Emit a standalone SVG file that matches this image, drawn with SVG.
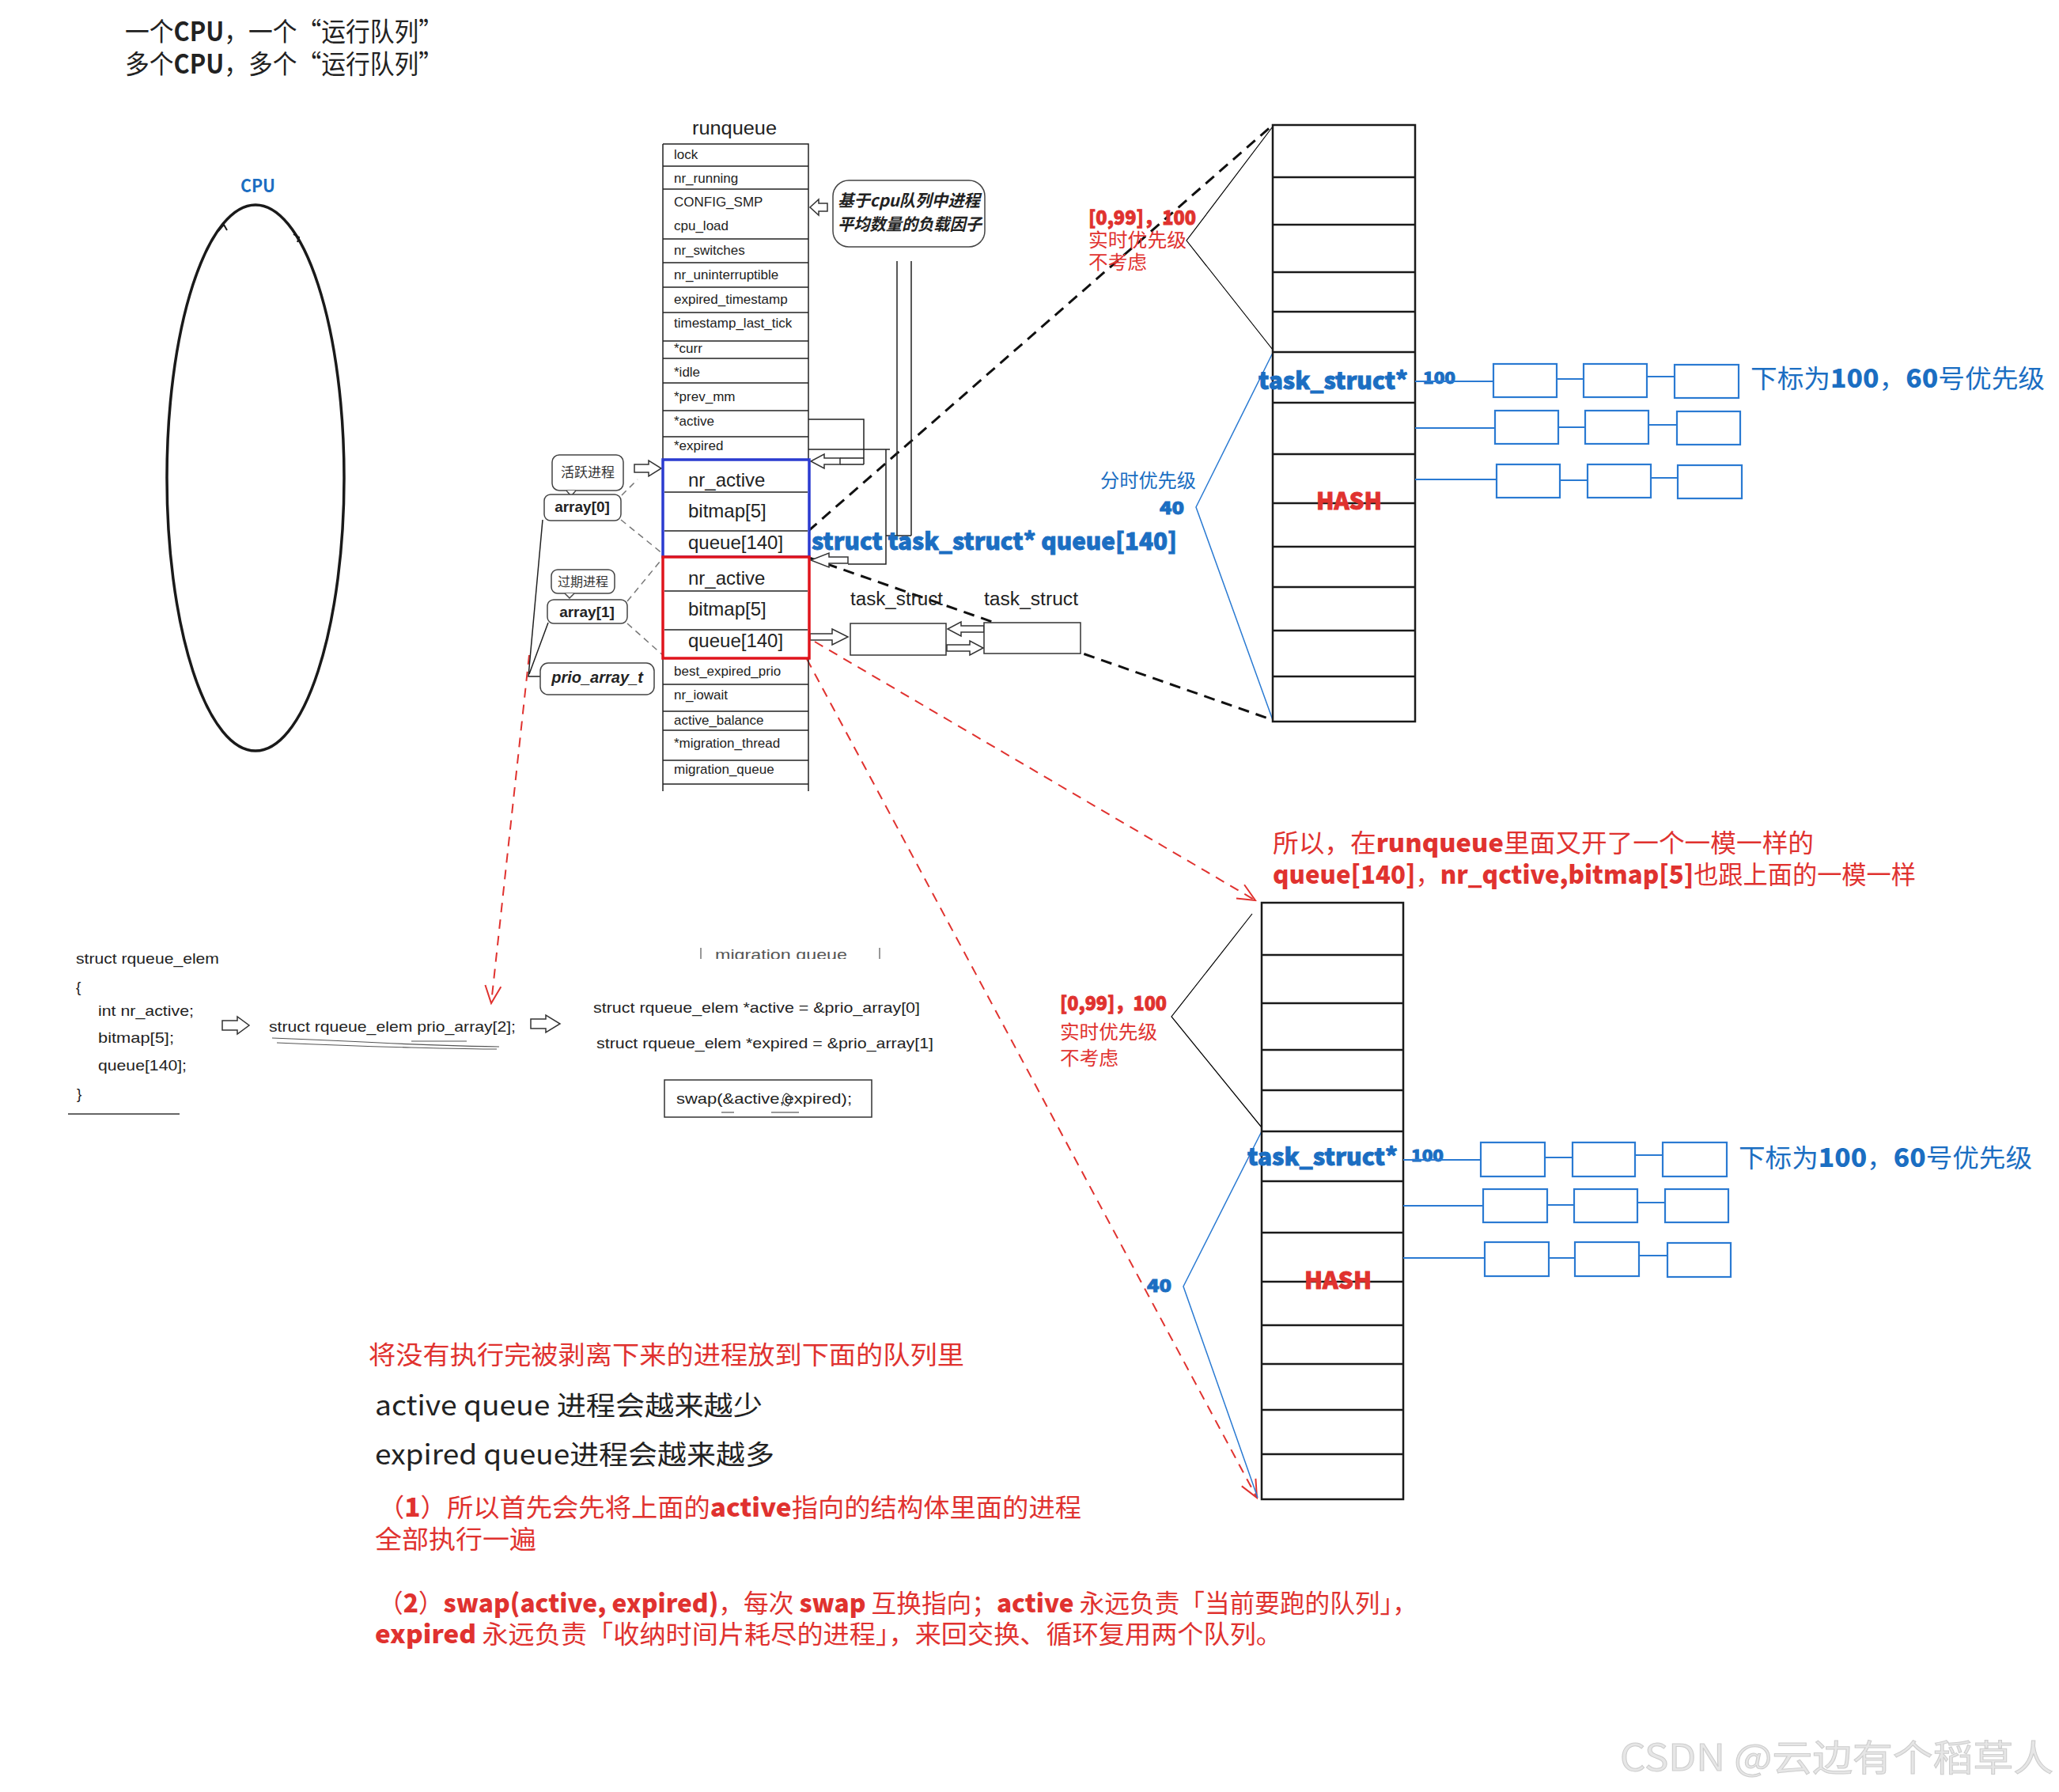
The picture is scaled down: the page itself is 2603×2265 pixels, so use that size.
<svg xmlns="http://www.w3.org/2000/svg" width="2603" height="2265" viewBox="0 0 2603 2265">
<defs>
<style>
text{font-family:"Noto Sans CJK SC","Noto Sans",sans-serif}
.lt{font-family:"Liberation Sans","Noto Sans CJK SC",sans-serif}
.tbl{font-family:"Liberation Sans",Arial,sans-serif;font-size:17px;fill:#222}
.code{font-family:"Liberation Sans",Arial,sans-serif;font-size:19px;fill:#222}
.hv{font-weight:900;stroke-width:0.9px}
.red.hv{stroke:#e0322f}
.blue.hv{stroke:#1b6ec2}
.col{fill:none;stroke:#1a1a1a;stroke-width:2.5}
.lb{fill:#fff;stroke:#2a7ad2;stroke-width:2.2}
.bl{stroke:#2a7ad2;stroke-width:2;fill:none}
.red{fill:#e0322f}
.blue{fill:#1b6ec2}
.hol{fill:#fff;stroke:#333;stroke-width:1.5}
.dk{stroke:#111;stroke-width:3;stroke-dasharray:14 9;fill:none}
.rd{stroke:#e0322f;stroke-width:2;stroke-dasharray:12 9;fill:none}
.gd{stroke:#777;stroke-width:1.5;stroke-dasharray:8 6;fill:none}
.ln{stroke:#222;stroke-width:1.5;fill:none}
.bub{fill:#fff;stroke:#444;stroke-width:1.5}
</style>
<marker id="vr" viewBox="-2 -12 26 24" refX="22" refY="0" markerWidth="26" markerHeight="24" markerUnits="userSpaceOnUse" orient="auto">
<path d="M0,-10 L22,0 L0,10" fill="none" stroke="#e0322f" stroke-width="2"/>
</marker>
<clipPath id="migclip"><rect x="880" y="1190" width="240" height="22"/></clipPath>
</defs>
<rect width="2603" height="2265" fill="#fff"/>

<g id="title">
<text x="158" y="52" font-size="33" fill="#222" textLength="402" lengthAdjust="spacingAndGlyphs">一个<tspan font-weight="bold">CPU</tspan>，一个“运行队列”</text>
<text x="158" y="93" font-size="33" fill="#222" textLength="402" lengthAdjust="spacingAndGlyphs">多个<tspan font-weight="bold">CPU</tspan>，多个“运行队列”</text>
</g>

<g id="cpu">
<text x="326" y="243" font-size="22" font-weight="bold" class="blue" text-anchor="middle" textLength="44" lengthAdjust="spacingAndGlyphs">CPU</text>
<ellipse cx="323" cy="604" rx="112" ry="345" fill="none" stroke="#1a1a1a" stroke-width="3.5"/>
<path d="M276,292 L283,284 L287,291 M371,296 L378,300 L376,306" fill="none" stroke="#1a1a1a" stroke-width="2"/>
</g>

<g id="connectors">
<line class="dk" x1="1022" y1="671" x2="1609" y2="158"/>
<line class="dk" x1="1023" y1="705" x2="1609" y2="910"/>
<line class="rd" x1="1030" y1="811" x2="1587" y2="1138" marker-end="url(#vr)"/>
<line class="rd" x1="1020" y1="833" x2="1589" y2="1893" marker-end="url(#vr)"/>
<line class="rd" x1="669" y1="828" x2="621" y2="1268" marker-end="url(#vr)"/>
<path class="ln" d="M1022,530 H1092 V587 M1062,579 H1092 M1062,587 H1092"/>
<path class="ln" d="M1022,568 H1125 M1120,568 V713 H1072"/>
<path class="ln" d="M1134,330 V677 M1152,330 V677 M1120,677 H1152"/>
<path class="hol" d="M1062,579 H1042 V574 L1025,583 L1042,592 V587 H1062 Z"/>
<path class="hol" d="M1072,704 H1048 V699 L1025,708 L1048,717 V712 H1072 Z"/>
<path class="hol" d="M1046,257 H1035 V252 L1024,262 L1035,272 V267 H1046 Z"/>
<path class="hol" d="M1024,801 H1052 V795 L1072,805 L1052,815 V809 H1024 Z"/>
<path class="hol" d="M1244,791 H1215 V786 L1198,795 L1215,804 V799 H1244 Z"/>
<path class="hol" d="M1197,815 H1226 V810 L1243,819 L1226,828 V823 H1197 Z"/>
<path class="hol" d="M802,587 H820 V582 L836,592 L820,602 V597 H802 Z"/>
<path class="gd" d="M786,626 L806,606 M785,657 L838,700 M793,760 L839,704 M793,788 L839,829"/>
<path class="ln" d="M686,657 L668,855 H683 M693,787 L669,852"/>
<path class="hol" d="M281,1290 H300 V1285 L315,1296 L300,1307 V1302 H281 Z"/>
<path class="hol" d="M671,1288 H690 V1283 L708,1294 L690,1305 V1300 H671 Z"/>
<polyline fill="none" stroke="#000" stroke-width="1.2" points="1609,160 1500,304 1609,442"/>
<polyline fill="none" stroke="#2a7ad2" stroke-width="1.5" points="1609,446 1512,641 1609,910"/>
<polyline fill="none" stroke="#000" stroke-width="1.2" points="1583,1155 1481,1285 1595,1425"/>
<polyline fill="none" stroke="#2a7ad2" stroke-width="1.5" points="1595,1430 1496,1626 1590,1893"/>
</g>

<g id="runqueue">
<text x="875" y="170" font-size="24" class="lt" fill="#222" textLength="107" lengthAdjust="spacingAndGlyphs">runqueue</text>
<path class="ln" d="M838,182 H1022 V1000 M838,182 V1000 M838,210 H1022 M838,239 H1022 M838,302 H1022 M838,332 H1022 M838,363 H1022 M838,395 H1022 M838,431 H1022 M838,453 H1022 M838,484 H1022 M838,519 H1022 M838,552 H1022 M838,865 H1022 M838,899 H1022 M838,923 H1022 M838,961 H1022 M838,991 H1022"/>
<text class="tbl" x="852" y="201">lock</text>
<text class="tbl" x="852" y="231">nr_running</text>
<text class="tbl" x="852" y="261">CONFIG_SMP</text>
<text class="tbl" x="852" y="291">cpu_load</text>
<text class="tbl" x="852" y="322">nr_switches</text>
<text class="tbl" x="852" y="353">nr_uninterruptible</text>
<text class="tbl" x="852" y="384">expired_timestamp</text>
<text class="tbl" x="852" y="414">timestamp_last_tick</text>
<text class="tbl" x="852" y="446">*curr</text>
<text class="tbl" x="852" y="476">*idle</text>
<text class="tbl" x="852" y="507">*prev_mm</text>
<text class="tbl" x="852" y="538">*active</text>
<text class="tbl" x="852" y="569">*expired</text>
<text class="tbl" x="852" y="854">best_expired_prio</text>
<text class="tbl" x="852" y="884">nr_iowait</text>
<text class="tbl" x="852" y="916">active_balance</text>
<text class="tbl" x="852" y="945">*migration_thread</text>
<text class="tbl" x="852" y="978">migration_queue</text>
</g>

<g id="array0">
<rect x="838" y="581" width="185" height="123" fill="#fff" stroke="#2b3bd0" stroke-width="3.5"/>
<path class="ln" d="M840,622 H1021 M840,671 H1021"/>
<text class="lt" x="870" y="615" font-size="24" fill="#222">nr_active</text>
<text class="lt" x="870" y="654" font-size="24" fill="#222">bitmap[5]</text>
<text class="lt" x="870" y="694" font-size="24" fill="#222">queue[140]</text>
</g>

<g id="array1">
<rect x="838" y="704" width="185" height="128" fill="#fff" stroke="#e0141c" stroke-width="3.5"/>
<path class="ln" d="M840,747 H1021 M840,796 H1021"/>
<text class="lt" x="870" y="739" font-size="24" fill="#222">nr_active</text>
<text class="lt" x="870" y="778" font-size="24" fill="#222">bitmap[5]</text>
<text class="lt" x="870" y="818" font-size="24" fill="#222">queue[140]</text>
</g>

<g id="load-callout">
<rect class="bub" x="1053" y="228" width="192" height="84" rx="20"/>
<text x="1059" y="261" font-size="21" font-style="italic" font-weight="bold" fill="#222" textLength="180" lengthAdjust="spacingAndGlyphs">基于cpu队列中进程</text>
<text x="1059" y="291" font-size="21" font-style="italic" font-weight="bold" fill="#222" textLength="182" lengthAdjust="spacingAndGlyphs">平均数量的负载因子</text>
</g>

<g id="bubble-active">
<rect class="bub" x="698" y="575" width="90" height="45" rx="9"/>
<path d="M716,620 L722,627 L728,620" fill="#fff" stroke="#444" stroke-width="1.5"/>
<text x="743" y="603" font-size="17" fill="#333" text-anchor="middle">活跃进程</text>
</g>
<g id="bubble-array0">
<rect class="bub" x="688" y="625" width="97" height="33" rx="8"/>
<text x="736" y="647" font-size="19" font-weight="bold" fill="#222" text-anchor="middle" class="lt">array[0]</text>
</g>
<g id="bubble-expired">
<rect class="bub" x="697" y="720" width="80" height="30" rx="8"/>
<path d="M714,750 L720,756 L726,750" fill="#fff" stroke="#444" stroke-width="1.5"/>
<text x="737" y="741" font-size="16" fill="#333" text-anchor="middle">过期进程</text>
</g>
<g id="bubble-array1">
<rect class="bub" x="692" y="758" width="101" height="30" rx="8"/>
<text x="742" y="780" font-size="19" font-weight="bold" fill="#222" text-anchor="middle" class="lt">array[1]</text>
</g>
<g id="bubble-prio">
<rect class="bub" x="683" y="838" width="144" height="40" rx="10"/>
<text x="755" y="863" font-size="20" font-weight="bold" font-style="italic" fill="#222" text-anchor="middle" class="lt">prio_array_t</text>
</g>

<g id="queue-label">
<text x="1026" y="695" font-size="30" class="blue hv" textLength="462" lengthAdjust="spacingAndGlyphs">struct task_struct* queue[140]</text>
</g>

<g id="task-structs">
<text class="lt" x="1075" y="765" font-size="23" fill="#222" textLength="117" lengthAdjust="spacingAndGlyphs">task_struct</text>
<text class="lt" x="1244" y="765" font-size="23" fill="#222" textLength="119" lengthAdjust="spacingAndGlyphs">task_struct</text>
<rect x="1075" y="788" width="121" height="40" fill="#fff" stroke="#333" stroke-width="1.5"/>
<rect x="1244" y="787" width="122" height="39" fill="#fff" stroke="#333" stroke-width="1.5"/>
</g>

<g id="hash-upper">
<path class="col" d="M1609,158 H1789 V912 H1609 Z M1609,224 H1789 M1609,284 H1789 M1609,344 H1789 M1609,394 H1789 M1609,445 H1789 M1609,509 H1789 M1609,574 H1789 M1609,636 H1789 M1609,691 H1789 M1609,742 H1789 M1609,797 H1789 M1609,855 H1789"/>
<text x="1591" y="492" font-size="30" class="blue hv" textLength="189" lengthAdjust="spacingAndGlyphs">task_struct*</text>
<text x="1799" y="485" font-size="20" class="blue hv" textLength="41" lengthAdjust="spacingAndGlyphs">100</text>
<text x="1664" y="644" font-size="30" class="red hv" textLength="83" lengthAdjust="spacingAndGlyphs">HASH</text>
<text x="1376" y="284" font-size="24" class="red hv" textLength="136" lengthAdjust="spacingAndGlyphs">[0,99]，100</text>
<text x="1376" y="312" font-size="24" class="red" textLength="124" lengthAdjust="spacingAndGlyphs">实时优先级</text>
<text x="1376" y="340" font-size="24" class="red" textLength="74" lengthAdjust="spacingAndGlyphs">不考虑</text>
<text x="1391" y="616" font-size="24" class="blue" textLength="121" lengthAdjust="spacingAndGlyphs">分时优先级</text>
<text x="1466" y="650" font-size="22" class="blue hv" textLength="31" lengthAdjust="spacingAndGlyphs">40</text>
</g>

<g id="lists-upper">
<path class="bl" d="M1789,482 H1888 M1968,479 H2002 M2082,476 H2117 M1789,541 H1890 M1970,540 H2004 M2084,537 H2120 M1789,606 H1892 M1972,607 H2007 M2087,604 H2121"/>
<rect class="lb" x="1888" y="460" width="80" height="42"/>
<rect class="lb" x="2002" y="460" width="80" height="42"/>
<rect class="lb" x="2117" y="461" width="81" height="42"/>
<rect class="lb" x="1890" y="519" width="80" height="42"/>
<rect class="lb" x="2004" y="519" width="80" height="42"/>
<rect class="lb" x="2120" y="520" width="80" height="42"/>
<rect class="lb" x="1892" y="587" width="80" height="42"/>
<rect class="lb" x="2007" y="587" width="80" height="42"/>
<rect class="lb" x="2121" y="588" width="81" height="42"/>
<text x="2213" y="490" font-size="32" class="blue" textLength="372" lengthAdjust="spacingAndGlyphs">下标为<tspan font-weight="900">100</tspan>，<tspan font-weight="900">60</tspan>号优先级</text>
</g>

<g id="note-copy">
<text x="1609" y="1077" font-size="32" class="red" textLength="684" lengthAdjust="spacingAndGlyphs">所以，在<tspan font-weight="900">runqueue</tspan>里面又开了一个一模一样的</text>
<text x="1609" y="1117" font-size="32" class="red" textLength="813" lengthAdjust="spacingAndGlyphs"><tspan font-weight="900">queue[140]</tspan>，<tspan font-weight="900">nr_qctive,bitmap[5]</tspan>也跟上面的一模一样</text>
</g>

<g id="hash-lower">
<path class="col" d="M1595,1141 H1774 V1895 H1595 Z M1595,1207 H1774 M1595,1268 H1774 M1595,1327 H1774 M1595,1378 H1774 M1595,1430 H1774 M1595,1493 H1774 M1595,1558 H1774 M1595,1620 H1774 M1595,1675 H1774 M1595,1724 H1774 M1595,1782 H1774 M1595,1838 H1774"/>
<text x="1577" y="1473" font-size="30" class="blue hv" textLength="190" lengthAdjust="spacingAndGlyphs">task_struct*</text>
<text x="1784" y="1468" font-size="20" class="blue hv" textLength="41" lengthAdjust="spacingAndGlyphs">100</text>
<text x="1649" y="1629" font-size="30" class="red hv" textLength="85" lengthAdjust="spacingAndGlyphs">HASH</text>
<text x="1340" y="1277" font-size="24" class="red hv" textLength="135" lengthAdjust="spacingAndGlyphs">[0,99]，100</text>
<text x="1340" y="1313" font-size="24" class="red" textLength="123" lengthAdjust="spacingAndGlyphs">实时优先级</text>
<text x="1340" y="1346" font-size="24" class="red" textLength="74" lengthAdjust="spacingAndGlyphs">不考虑</text>
<text x="1450" y="1633" font-size="22" class="blue hv" textLength="31" lengthAdjust="spacingAndGlyphs">40</text>
</g>

<g id="lists-lower">
<path class="bl" d="M1774,1466 H1872 M1953,1463 H1988 M2067,1460 H2102 M1774,1524 H1875 M1956,1523 H1990 M2070,1520 H2105 M1774,1590 H1877 M1958,1590 H1991 M2072,1587 H2108"/>
<rect class="lb" x="1872" y="1444" width="81" height="43"/>
<rect class="lb" x="1988" y="1444" width="79" height="43"/>
<rect class="lb" x="2102" y="1444" width="81" height="43"/>
<rect class="lb" x="1875" y="1503" width="81" height="42"/>
<rect class="lb" x="1990" y="1503" width="80" height="42"/>
<rect class="lb" x="2105" y="1503" width="80" height="42"/>
<rect class="lb" x="1877" y="1570" width="81" height="43"/>
<rect class="lb" x="1991" y="1570" width="81" height="43"/>
<rect class="lb" x="2108" y="1571" width="80" height="43"/>
<text x="2198" y="1475" font-size="32" class="blue" textLength="371" lengthAdjust="spacingAndGlyphs">下标为<tspan font-weight="900">100</tspan>，<tspan font-weight="900">60</tspan>号优先级</text>
</g>

<g id="code-struct">
<text class="code" x="96" y="1218" textLength="181" lengthAdjust="spacingAndGlyphs">struct rqueue_elem</text>
<text class="code" x="96" y="1254">{</text>
<text class="code" x="124" y="1284" textLength="121" lengthAdjust="spacingAndGlyphs">int nr_active;</text>
<text class="code" x="124" y="1318" textLength="96" lengthAdjust="spacingAndGlyphs">bitmap[5];</text>
<text class="code" x="124" y="1353" textLength="112" lengthAdjust="spacingAndGlyphs">queue[140];</text>
<text class="code" x="97" y="1389">}</text>
<path d="M86,1408 H227" stroke="#333" stroke-width="1.5"/>
</g>

<g id="code-prio">
<text class="code" x="340" y="1304" textLength="312" lengthAdjust="spacingAndGlyphs">struct rqueue_elem prio_array[2];</text>
<path d="M344,1312 Q420,1315 480,1318 T631,1323 M350,1318 Q440,1322 520,1324 T628,1326 M520,1316 H590" fill="none" stroke="#555" stroke-width="1.2"/>
</g>

<g id="code-ptrs">
<g clip-path="url(#migclip)">
<text class="code" x="904" y="1213" style="fill:#555" textLength="167" lengthAdjust="spacingAndGlyphs">migration queue</text>
</g>
<path d="M886,1198 V1212 M1112,1198 V1212" stroke="#777" stroke-width="1.5"/>
<text class="code" x="750" y="1280" textLength="413" lengthAdjust="spacingAndGlyphs">struct rqueue_elem *active = &amp;prio_array[0]</text>
<text class="code" x="754" y="1325" textLength="426" lengthAdjust="spacingAndGlyphs">struct rqueue_elem *expired = &amp;prio_array[1]</text>
</g>

<g id="swap-box">
<rect x="840" y="1365" width="262" height="47" fill="#fff" stroke="#333" stroke-width="1.5"/>
<text class="code" x="855" y="1395" textLength="222" lengthAdjust="spacingAndGlyphs">swap(&amp;active,expired);</text>
<path d="M912,1406 H928 M975,1406 H1010 M994,1382 C988,1386 988,1396 996,1398 C1002,1392 1000,1384 994,1382 Z" stroke="#333" stroke-width="1.1" fill="none"/>
</g>

<g id="notes-bottom">
<text x="466" y="1724" font-size="32" class="red" textLength="753" lengthAdjust="spacingAndGlyphs">将没有执行完被剥离下来的进程放到下面的队列里</text>
<text x="474" y="1789" font-size="34" fill="#222" textLength="490" lengthAdjust="spacingAndGlyphs">active queue 进程会越来越少</text>
<text x="474" y="1851" font-size="34" fill="#222" textLength="505" lengthAdjust="spacingAndGlyphs">expired queue进程会越来越多</text>
<text x="478" y="1917" font-size="32" class="red" textLength="889" lengthAdjust="spacingAndGlyphs">（<tspan font-weight="900">1</tspan>）所以首先会先将上面的<tspan font-weight="900">active</tspan>指向的结构体里面的进程</text>
<text x="474" y="1957" font-size="32" class="red" textLength="204" lengthAdjust="spacingAndGlyphs">全部执行一遍</text>
<text x="478" y="2038" font-size="32" class="red" textLength="1314" lengthAdjust="spacingAndGlyphs">（<tspan font-weight="900">2</tspan>）<tspan font-weight="900">swap(active, expired)</tspan>，每次 <tspan font-weight="900">swap</tspan> 互换指向；<tspan font-weight="900">active</tspan> 永远负责「当前要跑的队列」，</text>
<text x="474" y="2077" font-size="32" class="red" textLength="1147" lengthAdjust="spacingAndGlyphs"><tspan font-weight="900">expired</tspan> 永远负责「收纳时间片耗尽的进程」，来回交换、循环复用两个队列。</text>
</g>

<g id="watermark">
<text x="2048" y="2238" font-size="46" fill="#e6e6e6" stroke="#cdcdcd" stroke-width="1" textLength="548" lengthAdjust="spacingAndGlyphs">CSDN @云边有个稻草人</text>
</g>
</svg>
